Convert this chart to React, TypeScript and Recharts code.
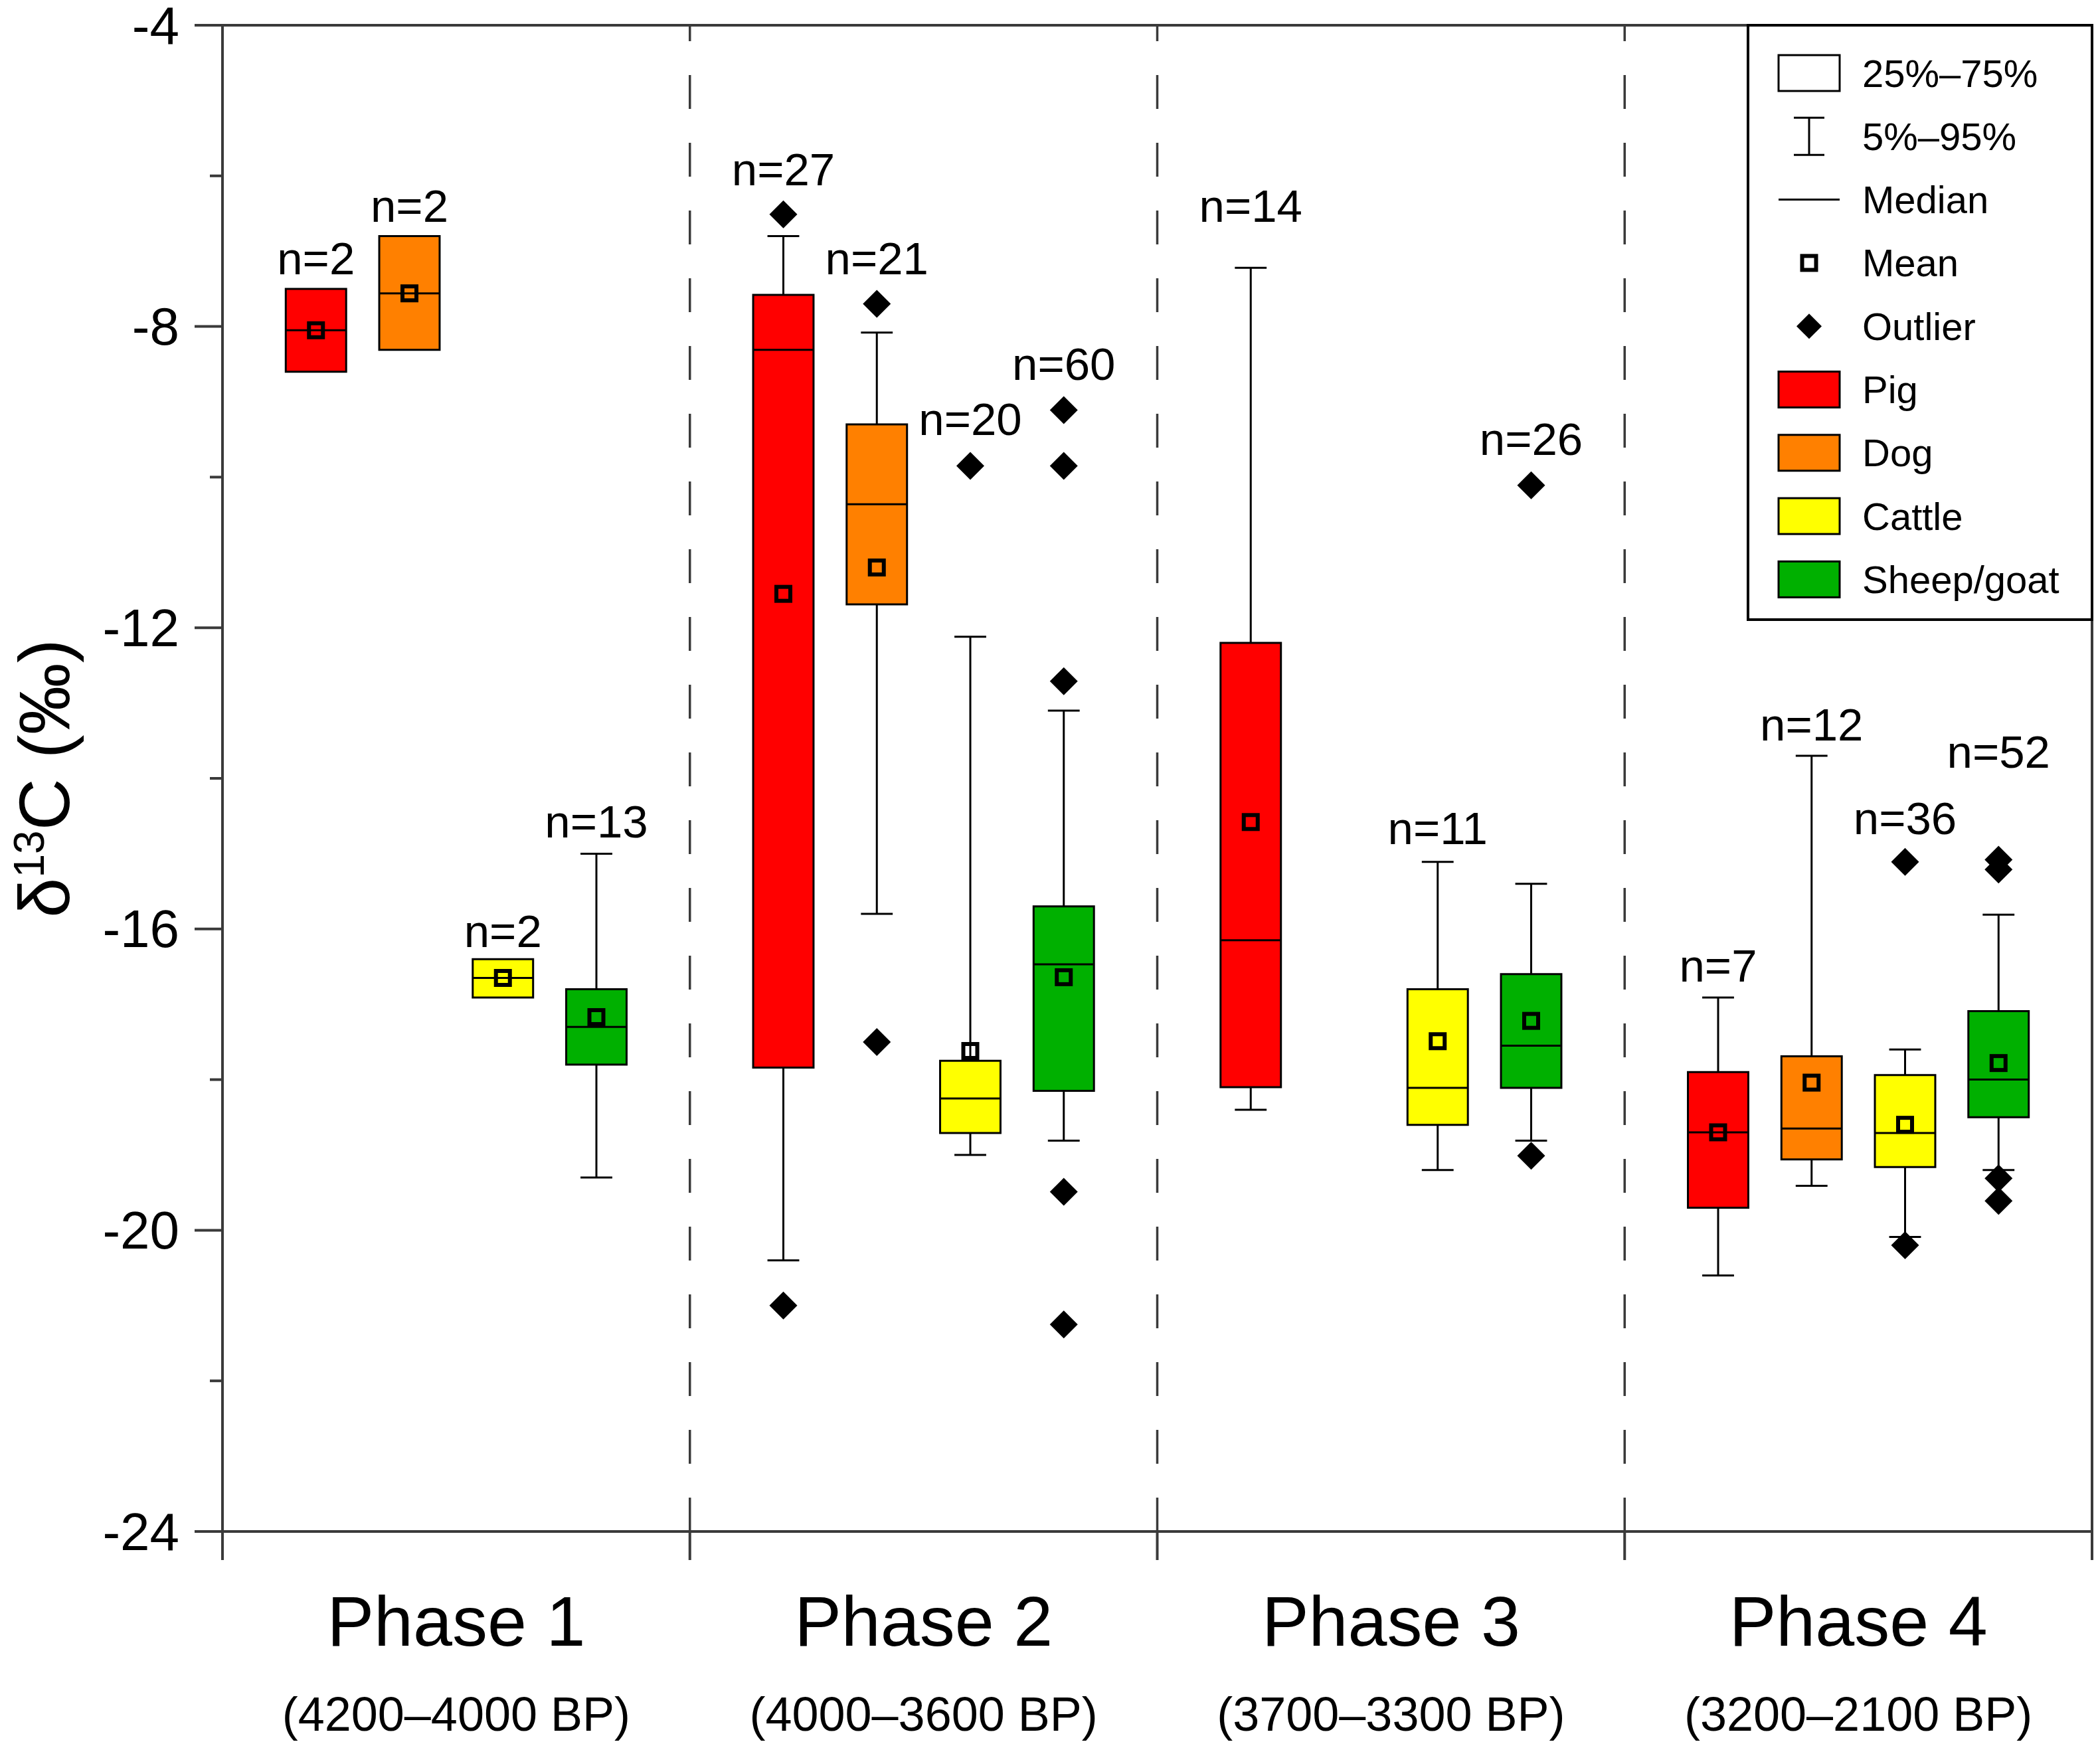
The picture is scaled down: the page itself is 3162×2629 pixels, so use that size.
import React from 'react';
import { ComposedChart, XAxis, YAxis, Scatter, ReferenceArea, ReferenceLine } from 'recharts';

const PHASES = ['Phase 1', 'Phase 2', 'Phase 3', 'Phase 4'];
const PHASE_DATES = ['(4200–4000 BP)', '(4000–3600 BP)', '(3700–3300 BP)', '(3200–2100 BP)'];
const TAXA = ['Pig', 'Dog', 'Cattle', 'Sheep/goat'];
const TAXA_COLORS = ['#FF0000', '#FF8000', '#FFFF00', '#00B000'];
const Y_TICKS = [-24, -22, -20, -18, -16, -14, -12, -10, -8, -6, -4];
const X_TICKS = [0, 2.5, 5, 7.5, 10, 12.5, 15, 17.5, 20];

// one entry per box (Phase 3 has no dog)
const BOX_PHASE = [0, 0, 0, 0, 1, 1, 1, 1, 2, 2, 2, 3, 3, 3, 3];
const BOX_TAXON = [0, 1, 2, 3, 0, 1, 2, 3, 0, 2, 3, 0, 1, 2, 3];
const N_COUNT = [2, 2, 2, 13, 27, 21, 20, 60, 14, 11, 26, 7, 12, 36, 52];
const Q75 = [-7.5, -6.8, -16.4, -16.8, -7.58, -9.3, -17.75, -15.7, -12.2, -16.8, -16.6, -17.9, -17.69, -17.94, -17.09];
const Q25 = [-8.6, -8.31, -16.91, -17.8, -17.84, -11.69, -18.71, -18.15, -18.1, -18.6, -18.11, -19.7, -19.06, -19.16, -18.5];
const MEDIAN = [-8.05, -7.56, -16.65, -17.3, -8.31, -10.36, -18.25, -16.47, -16.15, -18.11, -17.55, -18.7, -18.65, -18.71, -18.0];
const MEAN = [-8.05, -7.56, -16.65, -17.17, -11.55, -11.2, -17.62, -16.64, -14.58, -17.49, -17.22, -18.7, -18.04, -18.6, -17.78];
const P95: (number | null)[] = [null, null, null, -15.0, -6.8, -8.08, -12.12, -13.1, -7.22, -15.11, -15.4, -16.91, -13.7, -17.6, -15.81];
const P5: (number | null)[] = [null, null, null, -19.3, -20.4, -15.8, -19.0, -18.81, -18.4, -19.2, -18.81, -20.6, -19.41, -20.09, -19.2];
const OUTLIERS: number[][] = [
  [], [], [], [],
  [-6.51, -21.0], [-7.7, -17.5], [-9.85], [-9.11, -9.85, -12.71, -19.49, -21.25],
  [], [], [-10.11, -19.01],
  [], [], [-15.11, -20.2], [-15.08, -15.21, -19.31, -19.61],
];
// where the "n=" labels sit, in ‰
const N_LABEL_AT = [-7.1, -6.4, -16.03, -14.58, -5.92, -7.1, -9.23, -8.5, -6.4, -14.67, -9.5, -16.49, -13.29, -14.53, -13.65];

const LEGEND_LABELS = ['25%–75%', '5%–95%', 'Median', 'Mean', 'Outlier', ...TAXA];

const AXIS = '#3a3a3a';
const FONT = '"Liberation Sans", Arial, Helvetica, sans-serif';
const HALF_BOX = 0.323;
const HALF_CAP = 0.17;

const slotX = (i: number) => BOX_PHASE[i] * 5 + BOX_TAXON[i] + 1;

const meanPoints = MEAN.map((y, i) => ({ x: slotX(i), y }));
const outlierPoints = OUTLIERS.flatMap((list, i) => list.map((y) => ({ x: slotX(i), y })));
const labelPoints = N_LABEL_AT.map((y, i) => ({ x: slotX(i), y, n: N_COUNT[i] }));

const PhaseTick = (props: any) => {
  const { x, y, payload } = props;
  const v = payload.value;
  if (v % 5 === 0) {
    return <line x1={x} x2={x} y1={y} y2={y + 43} stroke={AXIS} strokeWidth={4} />;
  }
  const i = Math.floor(v / 5);
  return (
    <g fontFamily={FONT} fill="#000">
      <text x={x} y={y + 172} textAnchor="middle" fontSize={106}>{PHASES[i]}</text>
      <text x={x} y={y + 300} textAnchor="middle" fontSize={72}>{PHASE_DATES[i]}</text>
    </g>
  );
};

const DeltaTick = (props: any) => {
  const { x, y, payload } = props;
  const v = payload.value;
  const major = v % 4 === 0;
  return (
    <g>
      <line x1={x - (major ? 42 : 19)} x2={x} y1={y} y2={y} stroke={AXIS} strokeWidth={4} />
      {major && (
        <text x={x - 65} y={y} textAnchor="end" dominantBaseline="central" fontSize={80} fontFamily={FONT} fill="#000">
          {v}
        </text>
      )}
    </g>
  );
};

const YTitle = (props: any) => {
  const vb = props.viewBox || { x: 0, y: 38, width: 335, height: 2268 };
  const cx = 104;
  const cy = vb.y + vb.height / 2;
  return (
    <text x={cx} y={cy} transform={`rotate(-90, ${cx}, ${cy})`} textAnchor="middle" fontSize={108} fontFamily={FONT} fill="#000">
      <tspan>δ</tspan>
      <tspan fontSize={64} dy={-38}>13</tspan>
      <tspan dy={38}>C (‰)</tspan>
    </text>
  );
};

const MeanMark = (props: any) => (
  <rect x={props.cx - 10.5} y={props.cy - 10.5} width={21} height={21} fill="none" stroke="#000" strokeWidth={6} />
);

const OutlierMark = (props: any) => {
  const { cx, cy } = props;
  return <polygon points={`${cx},${cy - 21} ${cx + 21},${cy} ${cx},${cy + 21} ${cx - 21},${cy}`} fill="#000" />;
};

const CountLabel = (props: any) => (
  <text x={props.cx} y={props.cy} textAnchor="middle" dominantBaseline="central" fontSize={69} fontFamily={FONT} fill="#000">
    n={props.payload.n}
  </text>
);

function KeyBox() {
  const ix = 2724;
  return (
    <svg width={3162} height={2629} style={{ position: 'absolute', left: 0, top: 0, pointerEvents: 'none' }}>
      <rect x={2632} y={38} width={518} height={895} fill="#fff" stroke="#000" strokeWidth={4} />
      {LEGEND_LABELS.map((label, i) => {
        const cy = 110 + i * 95.3;
        let icon: React.ReactNode = null;
        if (i === 0) icon = <rect x={ix - 46} y={cy - 27} width={92} height={54} fill="#fff" stroke="#000" strokeWidth={3} />;
        else if (i === 1)
          icon = (
            <g stroke="#000" strokeWidth={3}>
              <line x1={ix} x2={ix} y1={cy - 28} y2={cy + 28} />
              <line x1={ix - 23} x2={ix + 23} y1={cy - 28} y2={cy - 28} />
              <line x1={ix - 23} x2={ix + 23} y1={cy + 28} y2={cy + 28} />
            </g>
          );
        else if (i === 2) icon = <line x1={ix - 46} x2={ix + 46} y1={cy} y2={cy} stroke="#000" strokeWidth={3} />;
        else if (i === 3) icon = <MeanMark cx={ix} cy={cy} />;
        else if (i === 4) icon = <polygon points={`${ix},${cy - 19} ${ix + 19},${cy} ${ix},${cy + 19} ${ix - 19},${cy}`} fill="#000" />;
        else icon = <rect x={ix - 46} y={cy - 27} width={92} height={54} fill={TAXA_COLORS[i - 5]} stroke="#000" strokeWidth={3} />;
        return (
          <g key={label}>
            {icon}
            <text x={2804} y={cy} dominantBaseline="central" fontSize={58} fontFamily={FONT} fill="#000">{label}</text>
          </g>
        );
      })}
    </svg>
  );
}

export default function App() {
  return (
    <div style={{ position: 'relative', width: 3162, height: 2629, background: '#fff' }}>
      <style>{'body{margin:0}'}</style>
      <ComposedChart width={3162} height={2629} margin={{ top: 38, right: 12, bottom: 0, left: 0 }}>
        <XAxis
          type="number"
          dataKey="x"
          domain={[0, 20]}
          allowDataOverflow
          ticks={X_TICKS}
          interval={0}
          tickLine={false}
          tickSize={0}
          tickMargin={0}
          tick={<PhaseTick />}
          height={323}
          axisLine={{ stroke: AXIS, strokeWidth: 4 }}
        />
        <YAxis
          type="number"
          domain={[-24, -4]}
          allowDataOverflow
          ticks={Y_TICKS}
          interval={0}
          tickLine={false}
          tickSize={0}
          tickMargin={0}
          tick={<DeltaTick />}
          width={335}
          axisLine={{ stroke: AXIS, strokeWidth: 4 }}
          label={{ content: (p: any) => <YTitle {...p} /> }}
        />

        {[5, 10, 15].map((x) => (
          <ReferenceLine key={`div${x}`} x={x} stroke={AXIS} strokeWidth={3.5} strokeDasharray="51 51" />
        ))}
        <ReferenceLine y={-4} stroke={AXIS} strokeWidth={4} />
        <ReferenceLine x={20} stroke={AXIS} strokeWidth={4} />

        {/* whiskers */}
        {P95.map((hi, i) =>
          hi === null ? null : (
            <ReferenceLine key={`wu${i}`} segment={[{ x: slotX(i), y: Q75[i] }, { x: slotX(i), y: hi }]} stroke="#000" strokeWidth={3} />
          )
        )}
        {P5.map((lo, i) =>
          lo === null ? null : (
            <ReferenceLine key={`wl${i}`} segment={[{ x: slotX(i), y: Q25[i] }, { x: slotX(i), y: lo }]} stroke="#000" strokeWidth={3} />
          )
        )}
        {P95.map((hi, i) =>
          hi === null ? null : (
            <ReferenceLine key={`cu${i}`} segment={[{ x: slotX(i) - HALF_CAP, y: hi }, { x: slotX(i) + HALF_CAP, y: hi }]} stroke="#000" strokeWidth={3} />
          )
        )}
        {P5.map((lo, i) =>
          lo === null ? null : (
            <ReferenceLine key={`cl${i}`} segment={[{ x: slotX(i) - HALF_CAP, y: lo }, { x: slotX(i) + HALF_CAP, y: lo }]} stroke="#000" strokeWidth={3} />
          )
        )}

        {/* interquartile boxes */}
        {Q75.map((hi, i) => (
          <ReferenceArea
            key={`box${i}`}
            x1={slotX(i) - HALF_BOX}
            x2={slotX(i) + HALF_BOX}
            y1={Q25[i]}
            y2={hi}
            fill={TAXA_COLORS[BOX_TAXON[i]]}
            fillOpacity={1}
            stroke="#000"
            strokeWidth={3}
          />
        ))}
        {MEDIAN.map((m, i) => (
          <ReferenceLine key={`med${i}`} segment={[{ x: slotX(i) - HALF_BOX, y: m }, { x: slotX(i) + HALF_BOX, y: m }]} stroke="#000" strokeWidth={3} />
        ))}

        <Scatter data={meanPoints} dataKey="y" shape={<MeanMark />} isAnimationActive={false} />
        <Scatter data={outlierPoints} dataKey="y" shape={<OutlierMark />} isAnimationActive={false} />
        <Scatter data={labelPoints} dataKey="y" shape={<CountLabel />} isAnimationActive={false} />
      </ComposedChart>
      <KeyBox />
    </div>
  );
}
